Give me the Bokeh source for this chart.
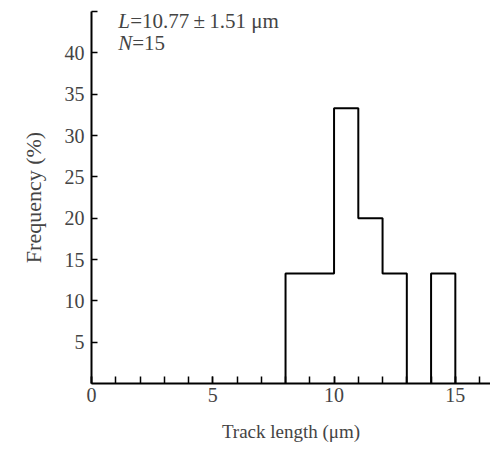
from bokeh.plotting import figure
from bokeh.models import Range1d, FixedTicker, Label
from bokeh.embed import file_html
from bokeh.resources import INLINE

# data
bin_edges = [8, 10, 11, 12, 13, 14, 15]
frequency = [13.3, 33.3, 20.0, 13.3, 0.0, 13.3]
x_major_ticks = [0, 5, 10, 15]
x_minor_ticks = list(range(0, 17))
y_ticks = [5, 10, 15, 20, 25, 30, 35, 40, 45]
mean_length = 10.77
sd_length = 1.51
n_tracks = 15

FONT = "Liberation Serif"

p = figure(width=490, height=446, output_backend="svg", toolbar_location=None,
           x_range=Range1d(0, 16.45), y_range=Range1d(0, 45),
           min_border_left=91, min_border_right=0, min_border_top=11, min_border_bottom=63)
p.outline_line_color = None
p.grid.visible = False
p.background_fill_color = "white"

# histogram outline built from bins
xs, ys = [], []
prev = 0.0
for i, v in enumerate(frequency):
    x0, x1 = bin_edges[i], bin_edges[i + 1]
    if v > 0:
        if prev == 0:
            xs.append(float("nan")); ys.append(float("nan"))
            xs.append(x0); ys.append(0)
        xs.append(x0); ys.append(v)
        xs.append(x1); ys.append(v)
        nxt = frequency[i + 1] if i + 1 < len(frequency) else 0
        if nxt == 0:
            xs.append(x1); ys.append(0)
    prev = v
p.line(xs, ys, line_color="black", line_width=2)

# axes
xa = p.xaxis[0]
xa.ticker = FixedTicker(ticks=x_major_ticks, minor_ticks=x_minor_ticks)
xa.major_tick_in = 7; xa.major_tick_out = 0
xa.minor_tick_in = 7; xa.minor_tick_out = 0
xa.axis_line_width = 2
xa.major_tick_line_width = 1.5; xa.minor_tick_line_width = 1.5
xa.major_label_text_font = FONT
xa.major_label_text_font_size = "20px"
xa.major_label_standoff = 4
xa.axis_label = "Track length (\u03bcm)"
xa.axis_label_text_font = FONT
xa.axis_label_text_font_style = "normal"
xa.axis_label_text_font_size = "19px"
xa.axis_label_standoff = 16

ya = p.yaxis[0]
ya.ticker = FixedTicker(ticks=y_ticks, minor_ticks=[])
ya.major_label_overrides = {45: ""}
ya.major_tick_in = 6; ya.major_tick_out = 0
ya.axis_line_width = 2
ya.major_tick_line_width = 1.5
ya.major_label_text_font = FONT
ya.major_label_text_font_size = "20px"
ya.major_label_standoff = 7
ya.axis_label = "Frequency (%)"
ya.axis_label_text_font = FONT
ya.axis_label_text_font_style = "normal"
ya.axis_label_text_font_size = "22px"
ya.axis_label_standoff = 16

# annotation
TS = "21px"
p.add_layout(Label(x=1.1, y=43.8, text="L", text_font=FONT, text_font_style="italic",
                   text_font_size=TS, text_baseline="alphabetic"))
p.add_layout(Label(x=1.1, y=43.8, x_offset=12,
                   text=f"={mean_length:.2f}\u2009\u00b1\u2009{sd_length:.2f} \u03bcm",
                   text_font=FONT, text_font_size=TS, text_baseline="alphabetic"))
p.add_layout(Label(x=1.1, y=41.2, text="N", text_font=FONT, text_font_style="italic",
                   text_font_size=TS, text_baseline="alphabetic"))
p.add_layout(Label(x=1.1, y=41.2, x_offset=14, text=f"={n_tracks}",
                   text_font=FONT, text_font_size=TS, text_baseline="alphabetic"))

open("out.html", "w").write(file_html(p, INLINE))
